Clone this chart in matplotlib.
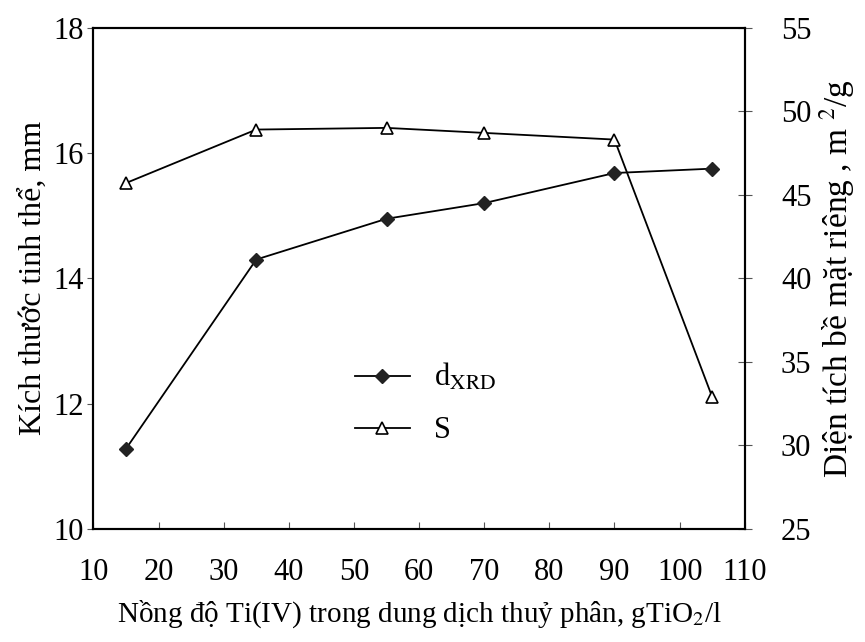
import matplotlib
matplotlib.use('Agg')
import matplotlib.pyplot as plt

plt.rcParams['font.family'] = ['Liberation Serif', 'DejaVu Serif']
plt.rcParams['mathtext.fontset'] = 'stix'

# data
conc = [15, 35, 55, 70, 90, 105]
d_xrd = [11.28, 14.3, 14.95, 15.2, 15.68, 15.75]
s_area = [45.7, 48.9, 49.0, 48.7, 48.3, 32.9]

fig = plt.figure(figsize=(8.65, 6.42), dpi=100)
ax = fig.add_axes([0.108, 0.176, 0.753, 0.781])
ax2 = ax.twinx()

l1, = ax.plot(conc, d_xrd, color='black', lw=1.3, marker='D', ms=7,
              mfc='#222222', mec='#222222', label='d$_{\\mathrm{XRD}}$')
l2, = ax2.plot(conc, s_area, color='black', lw=1.3, marker='^', ms=9,
               mfc='white', mec='black', mew=1.2, label='S')

ax.set_xlim(10, 110)
ax.set_ylim(10, 18)
ax2.set_ylim(25, 55)
ax.set_xticks(range(10, 111, 10))
ax.set_yticks([10, 12, 14, 16, 18])
ax2.set_yticks(range(25, 56, 5))

ax.tick_params(axis='x', direction='in', length=5, labelsize=22, pad=21, color='#555555')
ax.tick_params(axis='y', direction='out', length=4, labelsize=22, pad=3, color='#555555')
ax2.tick_params(axis='y', direction='inout', length=10, labelsize=22, pad=21, color='#555555')

for a in (ax, ax2):
    for sp in a.spines.values():
        sp.set_linewidth(1.5)

ax.set_xlabel('Nồng độ Ti(IV) trong dung dịch thuỷ phân, gTiO$_2$/l', fontsize=21, labelpad=8)
ax.set_ylabel('Kích thước tinh thể, mm', fontsize=23, labelpad=4)
ax2.set_ylabel('Diện tích bề mặt riêng , m $^2$/g', fontsize=24, labelpad=4)

ax2.legend(handles=[l1, l2], loc='center', bbox_to_anchor=(0.51, 0.25),
           frameon=False, fontsize=22, handlelength=1.8, labelspacing=0.75,
           handletextpad=0.8)

fig.savefig('out.png', dpi=100)
